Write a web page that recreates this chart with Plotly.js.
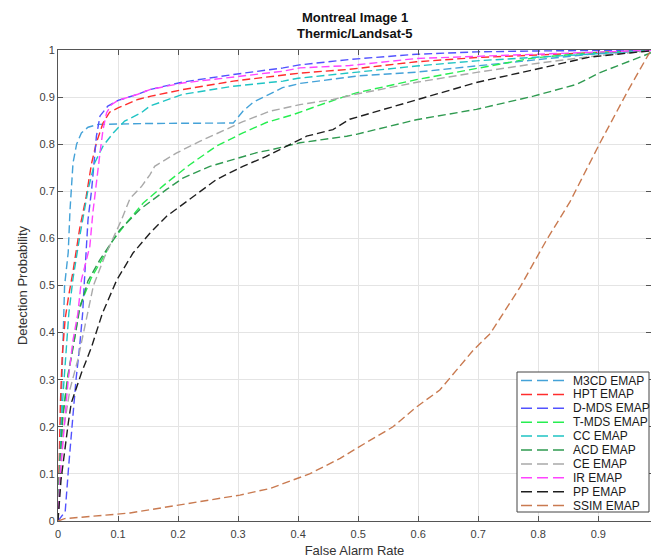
<!DOCTYPE html>
<html><head><meta charset="utf-8">
<script src="https://cdn.plot.ly/plotly-3.0.1.min.js"></script>
<style>body{margin:0;background:#fff}#chart{width:651px;height:559px}</style>
</head><body><div id="chart"></div>
<script>
const seriesNames = ['M3CD EMAP','HPT EMAP','D-MDS EMAP','T-MDS EMAP','CC EMAP','ACD EMAP','CE EMAP','IR EMAP','PP EMAP','SSIM EMAP'];
const seriesColors = ['#44a2d8','#ff2d2d','#5252ff','#26ee50','#1fc4c4','#2f9a50','#a9a9a9','#ff44ff','#1e1e1e','#c97a50'];

const m3cdX = [0,0.002,0.004,0.006,0.009,0.011,0.017,0.020,0.025,0.031,0.039,0.050,0.067,0.150,0.292,0.308,0.325,0.374,0.403,0.500,0.597,0.697,0.792,0.886,1];
const m3cdY = [0,0.10,0.20,0.30,0.40,0.50,0.57,0.66,0.76,0.80,0.824,0.836,0.842,0.844,0.845,0.870,0.889,0.920,0.929,0.945,0.953,0.966,0.979,0.991,1];

const hptX = [0,0.002,0.004,0.007,0.012,0.018,0.025,0.036,0.047,0.056,0.064,0.075,0.086,0.100,0.133,0.155,0.208,0.292,0.375,0.403,0.486,0.597,0.697,0.792,0.886,1];
const hptY = [0,0.12,0.25,0.35,0.43,0.48,0.53,0.62,0.689,0.76,0.803,0.845,0.868,0.877,0.895,0.902,0.916,0.934,0.946,0.951,0.959,0.975,0.984,0.989,0.994,1];

const dmdsX = [0,0.012,0.018,0.024,0.030,0.036,0.041,0.044,0.048,0.050,0.056,0.060,0.064,0.070,0.083,0.100,0.133,0.153,0.208,0.292,0.375,0.400,0.486,0.597,0.697,0.800,1];
const dmdsY = [0,0.02,0.12,0.21,0.30,0.37,0.44,0.51,0.583,0.64,0.703,0.767,0.817,0.860,0.881,0.893,0.906,0.916,0.932,0.948,0.962,0.968,0.980,0.991,0.996,0.998,1];

const tmdsX = [0,0.003,0.008,0.017,0.028,0.036,0.055,0.070,0.092,0.114,0.142,0.181,0.220,0.264,0.308,0.347,0.392,0.447,0.497,0.597,0.697,0.791,0.886,1];
const tmdsY = [0,0.115,0.228,0.314,0.391,0.455,0.515,0.548,0.597,0.633,0.675,0.718,0.757,0.796,0.824,0.846,0.863,0.888,0.909,0.937,0.961,0.983,0.994,1];

const ccX = [0,0.002,0.005,0.009,0.014,0.018,0.025,0.037,0.050,0.061,0.075,0.092,0.111,0.139,0.153,0.208,0.292,0.375,0.400,0.486,0.597,0.697,0.792,0.886,1];
const ccY = [0,0.10,0.193,0.28,0.37,0.44,0.515,0.61,0.703,0.76,0.796,0.824,0.849,0.867,0.881,0.906,0.923,0.934,0.940,0.952,0.966,0.977,0.984,0.992,1];

const acdX = [0,0.003,0.008,0.017,0.028,0.036,0.050,0.070,0.103,0.136,0.181,0.208,0.253,0.292,0.331,0.358,0.403,0.481,0.497,0.597,0.697,0.792,0.864,0.903,0.958,1];
const acdY = [0,0.11,0.22,0.31,0.39,0.45,0.51,0.555,0.618,0.661,0.704,0.728,0.753,0.767,0.782,0.789,0.803,0.817,0.821,0.852,0.874,0.902,0.927,0.952,0.980,1];

const ceX = [0,0.003,0.010,0.020,0.033,0.046,0.059,0.078,0.095,0.106,0.120,0.139,0.153,0.161,0.197,0.236,0.281,0.308,0.353,0.403,0.458,0.500,0.600,0.700,0.800,0.900,1];
const ceY = [0,0.10,0.20,0.28,0.342,0.42,0.50,0.562,0.611,0.64,0.685,0.71,0.735,0.753,0.781,0.806,0.832,0.848,0.870,0.884,0.895,0.907,0.932,0.953,0.972,0.988,1];

const irX = [0,0.002,0.005,0.011,0.017,0.025,0.033,0.039,0.053,0.058,0.064,0.070,0.075,0.081,0.089,0.100,0.133,0.153,0.208,0.292,0.375,0.403,0.486,0.597,0.697,0.792,0.886,1];
const irY = [0,0.06,0.115,0.21,0.30,0.384,0.44,0.512,0.583,0.654,0.725,0.782,0.831,0.867,0.884,0.893,0.906,0.916,0.930,0.943,0.955,0.962,0.967,0.982,0.987,0.991,0.995,1];

const ppX = [0,0.005,0.017,0.022,0.039,0.056,0.074,0.098,0.125,0.153,0.181,0.225,0.264,0.308,0.347,0.381,0.414,0.458,0.486,0.597,0.697,0.792,0.886,1];
const ppY = [0,0.087,0.207,0.25,0.314,0.37,0.441,0.512,0.569,0.611,0.647,0.689,0.725,0.753,0.774,0.796,0.817,0.831,0.853,0.894,0.931,0.958,0.985,1];

const ssimX = [0,0.011,0.120,0.161,0.197,0.303,0.353,0.419,0.470,0.497,0.531,0.558,0.597,0.636,0.692,0.720,0.770,0.814,0.853,0.903,0.950,0.987,1];
const ssimY = [0,0.005,0.017,0.026,0.033,0.055,0.069,0.100,0.133,0.154,0.179,0.200,0.242,0.278,0.363,0.398,0.497,0.597,0.678,0.803,0.915,0.998,1];

const seriesX = [m3cdX,hptX,dmdsX,tmdsX,ccX,acdX,ceX,irX,ppX,ssimX];
const seriesY = [m3cdY,hptY,dmdsY,tmdsY,ccY,acdY,ceY,irY,ppY,ssimY];
const xTicks = [0,0.1,0.2,0.3,0.4,0.5,0.6,0.7,0.8,0.9];
const xTickText = ['0','0.1','0.2','0.3','0.4','0.5','0.6','0.7','0.8','0.9'];
const yTicks = [0,0.1,0.2,0.3,0.4,0.5,0.6,0.7,0.8,0.9,1];
const yTickText = ['0','0.1','0.2','0.3','0.4','0.5','0.6','0.7','0.8','0.9','1'];
const titleLines = ['Montreal Image 1','Thermic/Landsat-5'];

const FONT = 'Liberation Sans, Arial, sans-serif';
const traces = seriesNames.map((n,i)=>({
  x: seriesX[i], y: seriesY[i], name: n, type:'scatter', mode:'lines',
  line:{color: seriesColors[i], width:1.4, dash:'8px,4px'}, showlegend:false, hoverinfo:'skip'
}));

const W = 651, H = 559, ML = 58, MR = 0, MT = 50, MB = 38;
const pw = W-ML-MR, ph = H-MT-MB;
const px2paperX = p => (p-ML)/pw;
const py2paperY = p => (H-MB-p)/ph;
const shapes = [{type:'rect', xref:'paper', yref:'paper', x0:px2paperX(517), x1:px2paperX(649), y0:py2paperY(512), y1:py2paperY(372), fillcolor:'#ffffff', line:{color:'#444', width:1}}];
const annotations = [];
seriesNames.forEach((n,i)=>{
  const py = 380.5 + i*13.9;
  shapes.push({type:'line', xref:'paper', yref:'paper', x0:px2paperX(521), x1:px2paperX(567), y0:py2paperY(py), y1:py2paperY(py), line:{color:seriesColors[i], width:1.5, dash:'11px,5px'}});
  annotations.push({xref:'paper', yref:'paper', x:px2paperX(571), y:py2paperY(py), text:n, showarrow:false, xanchor:'left', yanchor:'middle', font:{family:FONT, size:12, color:'#1a1a1a'}});
});
titleLines.forEach((t,i)=>{
  annotations.push({xref:'paper', yref:'paper', x:0.5, y:py2paperY(17 + i*16), text:'<b>'+t+'</b>', showarrow:false, xanchor:'center', yanchor:'middle', font:{family:FONT, size:13, color:'#111'}});
});

const layout = {
  width:W, height:H, margin:{l:ML, r:MR, t:MT, b:MB},
  paper_bgcolor:'#fff', plot_bgcolor:'#fff',
  xaxis:{range:[0,(W-ML-0.3)/600], tickvals:xTicks, ticktext:xTickText, ticks:'inside', ticklen:5, tickcolor:'#555', showline:true, linecolor:'#555', linewidth:1, mirror:'ticks', showgrid:true, gridcolor:'#e4e4e4', gridwidth:1, zeroline:false, ticklabelstandoff:3, tickfont:{family:FONT, size:11, color:'#404040'}, title:{text:'False Alarm Rate', font:{family:FONT, size:13, color:'#333'}, standoff:6}, automargin:false},
  yaxis:{range:[0,1], tickvals:yTicks, ticktext:yTickText, ticks:'inside', ticklen:5, tickcolor:'#555', showline:true, linecolor:'#555', linewidth:1, mirror:'ticks', showgrid:true, gridcolor:'#e4e4e4', gridwidth:1, zeroline:false, tickfont:{family:FONT, size:11, color:'#404040'}, title:{text:'Detection Probability', font:{family:FONT, size:13, color:'#333'}, standoff:8}, automargin:false},
  shapes: shapes, annotations: annotations, showlegend:false
};
Plotly.newPlot('chart', traces, layout, {displayModeBar:false, staticPlot:true});
</script></body></html>
